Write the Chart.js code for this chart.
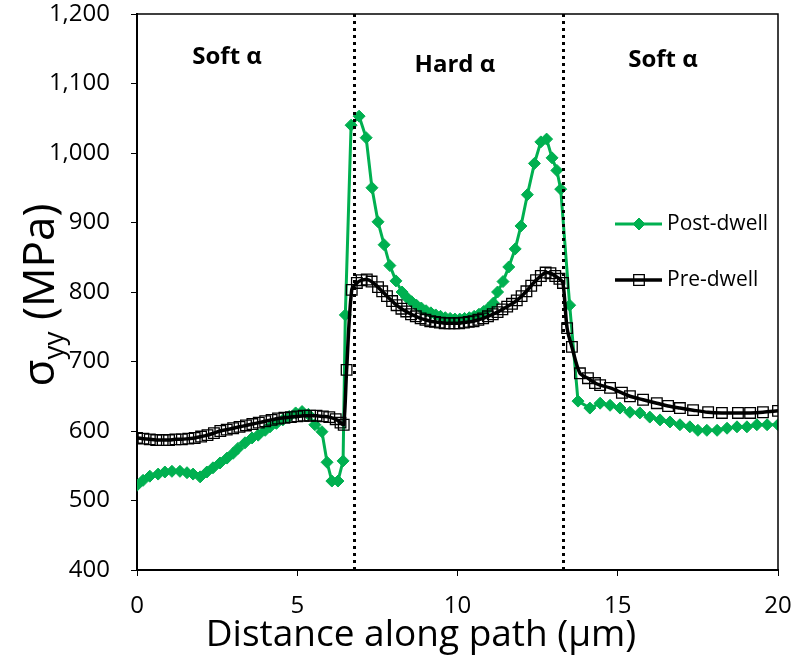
<!DOCTYPE html>
<html lang="en">
<head>
    <meta charset="UTF-8">
    <title>Stress along path - pre and post dwell</title>
    <script src="https://cdn.jsdelivr.net/npm/chart.js"></script>
    <style>
        body { margin: 0; background: #fff; font-family: 'Open Sans', sans-serif; }
        #chartContainer { position: relative; width: 795px; height: 663px; }
    </style>
</head>
<body>
    <div id="chartContainer">
        <canvas id="stressChart"></canvas>
    </div>

    <script>
        // values
        const postX = [0, 0.19, 0.4, 0.66, 0.87, 1.09, 1.34, 1.56, 1.75, 1.97, 2.18, 2.37, 2.59, 2.81, 3.0, 3.15, 3.37, 3.59, 3.78, 4.0,
            4.15, 4.35, 4.55, 4.75, 4.95, 5.15, 5.35, 5.55, 5.77, 5.93, 6.08, 6.27, 6.43, 6.5, 6.68, 6.93, 7.15, 7.33, 7.52, 7.71,
            7.89, 8.08, 8.27, 8.42, 8.57, 8.72, 8.87, 9.02, 9.17, 9.32, 9.47, 9.62, 9.77, 9.92, 10.07, 10.22, 10.37, 10.52, 10.67, 10.82,
            10.97, 11.12, 11.25, 11.42, 11.6, 11.8, 11.98, 12.18, 12.4, 12.6, 12.78, 12.95, 13.1, 13.22, 13.5, 13.76, 14.13, 14.45, 14.76, 15.07,
            15.38, 15.69, 16.0, 16.32, 16.63, 16.94, 17.25, 17.5, 17.78, 18.1, 18.41, 18.72, 19.03, 19.34, 19.66, 20];
        const postY = [522, 529, 535, 538, 541, 542, 542, 540, 538, 534, 541, 547, 554, 561, 568, 575, 583, 590, 594, 601,
            606, 611, 616, 621, 626, 628, 624, 609, 599, 555, 528, 528, 557, 767, 1040, 1053, 1022, 950, 901, 868,
            838, 816, 800, 792, 786, 781, 777, 773, 770, 767, 765, 763, 762, 761, 761, 762, 763, 765, 768, 772,
            777, 784, 800, 815, 836, 862, 895, 940, 985, 1016, 1020, 993, 975, 948, 781, 643, 633, 640, 637, 633,
            627, 626, 620, 616, 613, 609, 606, 601, 601, 601, 604, 606, 606, 609, 609, 609];

        const preX = [0, 0.2, 0.4, 0.6, 0.8, 1.0, 1.2, 1.4, 1.6, 1.8, 2.0, 2.2, 2.4, 2.6, 2.8, 3.0, 3.2, 3.4, 3.6, 3.8,
            4.0, 4.2, 4.4, 4.6, 4.8, 5.0, 5.2, 5.4, 5.6, 5.8, 6.0, 6.2, 6.35, 6.45, 6.54, 6.7, 6.86, 7.01, 7.17, 7.32,
            7.52, 7.65, 7.8, 7.96, 8.1, 8.25, 8.4, 8.55, 8.7, 8.85, 9.0, 9.15, 9.3, 9.45, 9.6, 9.75, 9.9, 10.05, 10.2, 10.35,
            10.5, 10.65, 10.8, 10.95, 11.1, 11.25, 11.4, 11.55, 11.7, 11.85, 12.0, 12.15, 12.3, 12.45, 12.6, 12.75, 12.9, 13.05, 13.18, 13.29,
            13.42, 13.57, 13.82, 14.07, 14.29, 14.45, 14.76, 15.13, 15.38, 15.79, 16.22, 16.57, 16.94, 17.35, 17.82, 18.25, 18.75, 19.13, 19.53, 20];
        const preY = [590, 589, 588, 587, 587, 587, 588, 588, 589, 590, 592, 594, 597, 600, 602, 604, 606, 608, 610, 612,
            614, 616, 618, 619, 620, 621, 622, 622, 622, 621, 620, 617, 612, 609, 688, 803, 813, 817, 818, 815,
            807, 801, 794, 787, 781, 776, 772, 768, 765, 762, 760, 758, 757, 756, 755, 755, 755, 755, 756, 757,
            758, 760, 762, 765, 768, 771, 775, 779, 783, 788, 794, 801, 809, 817, 823, 828, 827, 823, 819, 813,
            748, 721, 683, 676, 669, 666, 662, 655, 650, 645, 640, 636, 633, 630, 627, 626, 626, 626, 627, 629];

        // phase boundaries (µm) and region labels
        const boundaries = [6.77, 13.29];
        const regionLabels = [
            { x: 2.81, y: 1138, text: 'Soft α' },
            { x: 9.92, y: 1127, text: 'Hard α' },
            { x: 16.41, y: 1134, text: 'Soft α' }
        ];

        const green = '#00B050';
        const toPoints = (xs, ys) => xs.map((x, i) => ({ x: x, y: ys[i] }));

        // boundaries, frame, region labels, legend and axis titles
        const decorations = {
            id: 'decorations',
            afterDatasetsDraw(chart) {
                const { ctx, chartArea, scales } = chart;
                const xs = scales.x, ys = scales.y;

                ctx.save();
                // dotted phase boundaries
                ctx.strokeStyle = '#000';
                ctx.lineWidth = 3;
                ctx.setLineDash([3, 4]);
                boundaries.forEach(b => {
                    const px = Math.round(xs.getPixelForValue(b)) + 0.5;
                    ctx.beginPath();
                    ctx.moveTo(px, chartArea.top);
                    ctx.lineTo(px, chartArea.bottom);
                    ctx.stroke();
                });
                ctx.setLineDash([]);

                // top and right frame
                ctx.lineWidth = 1.5;
                ctx.beginPath();
                ctx.moveTo(chartArea.left, chartArea.top);
                ctx.lineTo(chartArea.right, chartArea.top);
                ctx.lineTo(chartArea.right, chartArea.bottom);
                ctx.stroke();

                // region labels
                ctx.fillStyle = '#000';
                ctx.font = 'bold 24px "Open Sans"';
                ctx.textAlign = 'center';
                ctx.textBaseline = 'middle';
                regionLabels.forEach(l => {
                    ctx.fillText(l.text, xs.getPixelForValue(l.x), ys.getPixelForValue(l.y));
                });

                // legend
                const items = [
                    { label: 'Post-dwell', ds: chart.data.datasets[1], y: 224 },
                    { label: 'Pre-dwell', ds: chart.data.datasets[0], y: 280 }
                ];
                items.forEach(it => {
                    ctx.strokeStyle = it.ds.borderColor;
                    ctx.lineWidth = it.ds.borderWidth;
                    ctx.beginPath();
                    ctx.moveTo(615, it.y);
                    ctx.lineTo(662, it.y);
                    ctx.stroke();
                    ctx.fillStyle = it.ds.pointBackgroundColor;
                    ctx.strokeStyle = it.ds.pointBorderColor;
                    ctx.lineWidth = it.ds.pointBorderWidth;
                    Chart.helpers.drawPoint(ctx, {
                        pointStyle: it.ds.pointStyle,
                        radius: it.ds.pointRadius,
                        borderWidth: it.ds.pointBorderWidth
                    }, 639, it.y);
                    ctx.fillStyle = '#000';
                    ctx.font = '21px "Open Sans"';
                    ctx.textAlign = 'left';
                    ctx.textBaseline = 'middle';
                    ctx.fillText(it.label, 667, it.y);
                });

                // x-axis title (sits left of centre, as in the original)
                ctx.font = '37px "Open Sans"';
                ctx.textAlign = 'center';
                ctx.textBaseline = 'middle';
                ctx.fillText('Distance along path (µm)', 421, 635);

                // y-axis title: sigma_yy (MPa)
                ctx.translate(40, 295);
                ctx.rotate(-Math.PI / 2);
                const bigFont = '44px "Open Sans"';
                const subFont = '28px "Open Sans"';
                ctx.font = bigFont;
                const wSig = ctx.measureText('σ').width;
                const wRest = ctx.measureText(' (MPa)').width;
                ctx.font = subFont;
                const wSub = ctx.measureText('yy').width;
                let tx = -(wSig + wSub + wRest) / 2;
                ctx.textAlign = 'left';
                ctx.textBaseline = 'alphabetic';
                ctx.font = bigFont;
                ctx.fillText('σ', tx, 14);
                tx += wSig;
                ctx.font = subFont;
                ctx.fillText('yy', tx, 23);
                tx += wSub;
                ctx.font = bigFont;
                ctx.fillText(' (MPa)', tx, 14);
                ctx.restore();
            }
        };

        const ctx = document.getElementById('stressChart').getContext('2d');

        new Chart(ctx, {
            type: 'line',
            data: {
                datasets: [{
                    label: 'Pre-dwell',
                    data: toPoints(preX, preY),
                    borderColor: '#000',
                    borderWidth: 3.5,
                    tension: 0.3,
                    pointStyle: 'rect',
                    pointRadius: 7.5,
                    pointBorderWidth: 1.3,
                    pointBorderColor: '#000',
                    pointBackgroundColor: 'rgba(0,0,0,0)',
                    order: 0,
                    fill: false
                }, {
                    label: 'Post-dwell',
                    data: toPoints(postX, postY),
                    borderColor: green,
                    borderWidth: 3,
                    tension: 0,
                    pointStyle: 'rectRot',
                    pointRadius: 6,
                    pointBorderWidth: 1,
                    pointBorderColor: green,
                    pointBackgroundColor: green,
                    order: 1,
                    fill: false
                }]
            },
            options: {
                responsive: true,
                maintainAspectRatio: false,
                animation: false,
                layout: { padding: { top: 14, right: 17, left: 0, bottom: 0 } },
                scales: {
                    x: {
                        type: 'linear',
                        min: 0,
                        max: 20,
                        afterFit: s => { s.height = 93; s.paddingLeft = 0; s.paddingRight = 0; },
                        ticks: { stepSize: 5, color: '#000', padding: 16, font: { family: 'Open Sans', size: 24 } },
                        grid: { drawOnChartArea: false, tickLength: 6, color: '#000' },
                        border: { color: '#000', width: 2 }
                    },
                    y: {
                        min: 400,
                        max: 1200,
                        afterFit: s => { s.width = 137; s.paddingTop = 0; s.paddingBottom = 0; },
                        ticks: { stepSize: 100, color: '#000', padding: 21, font: { family: 'Open Sans', size: 24 } },
                        grid: { drawOnChartArea: false, tickLength: 6, color: '#000' },
                        border: { color: '#000', width: 2 }
                    }
                },
                plugins: {
                    legend: { display: false },
                    tooltip: { enabled: false }
                }
            },
            plugins: [decorations]
        });
    </script>
</body>
</html>
